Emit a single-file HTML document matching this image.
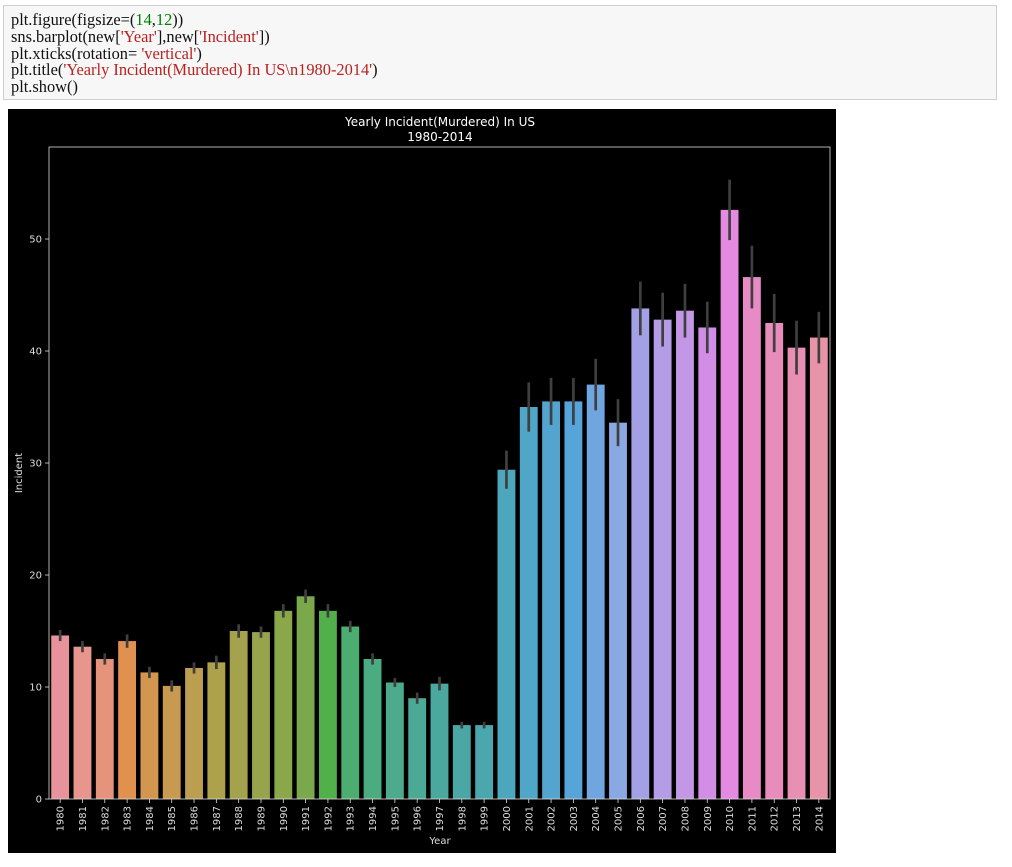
<!DOCTYPE html>
<html><head><meta charset="utf-8"><style>
body{margin:0;background:#fff;width:1012px;height:867px;overflow:hidden;position:relative}
#code{position:absolute;left:3px;top:5px;width:994px;height:95px;background:#f7f7f7;border:1px solid #cfcfcf;font-family:"Liberation Serif",serif;font-size:16.4px;line-height:16.8px;color:#111;padding:6px 0 0 7px;box-sizing:border-box}
.n{color:#008000}.s{color:#ba2121}
svg{position:absolute;left:0;top:0}
</style></head><body>
<div id="code">plt.figure(figsize=(<span class="n">14</span>,<span class="n">12</span>))<br>sns.barplot(new[<span class="s">'Year'</span>],new[<span class="s">'Incident'</span>])<br>plt.xticks(rotation= <span class="s">'vertical'</span>)<br>plt.title(<span class="s">'Yearly Incident(Murdered) In US\n1980-2014'</span>)<br>plt.show()</div>
<svg width="1012" height="867">
<rect x="8" y="109" width="828" height="744" fill="#000"/>
<g id="g" font-family="DejaVu Sans, Liberation Sans, sans-serif"></g>
</svg>
<script>
const years=["1980","1981","1982","1983","1984","1985","1986","1987","1988","1989","1990","1991","1992","1993","1994","1995","1996","1997","1998","1999","2000","2001","2002","2003","2004","2005","2006","2007","2008","2009","2010","2011","2012","2013","2014"];
const values=[14.6,13.6,12.5,14.1,11.3,10.1,11.7,12.2,15.0,14.9,16.8,18.1,16.8,15.4,12.5,10.4,9.0,10.3,6.6,6.6,29.4,35.0,35.5,35.5,37.0,33.6,43.8,42.8,43.6,42.1,52.6,46.6,42.5,40.3,41.2];
const errs=[0.5,0.5,0.5,0.6,0.5,0.5,0.5,0.6,0.6,0.5,0.6,0.6,0.6,0.5,0.5,0.4,0.5,0.6,0.3,0.3,1.7,2.2,2.1,2.1,2.3,2.1,2.4,2.4,2.4,2.3,2.7,2.8,2.6,2.4,2.3];
const yTicks=[0,10,20,30,40,50];
const colors=["#e8939c","#e8968d","#e5937b","#e0904f","#d29650","#c79a50","#bb9e4f","#aea14c","#a5a24d","#98a44c","#8aa84a","#7aa84a","#52b04a","#4cad70","#4bac82","#4bab8c","#4aaa95","#4ba89e","#4aa7a6","#4aa7ae","#4ca7bd","#4fa6c6","#53a5d0","#57a4db","#6fa6e0","#8aa8e2","#a3a0e6","#b59ce6","#c496e6","#d28ee6","#e48ae0","#e88ac6","#e88cbc","#e88fb3","#e894a8"];
const L=49,R=830,T=147,B=799,YMAX=(B-T)/11.2;
const y=v=>B-v/YMAX*(B-T);
const step=(R-L)/years.length;
const x=i=>L+step*(i+0.5);
const g=document.getElementById('g');
const NS="http://www.w3.org/2000/svg";
function mk(t,a){const e=document.createElementNS(NS,t);for(const k in a)e.setAttribute(k,a[k]);g.appendChild(e);return e;}
values.forEach((v,i)=>{
 const r=mk('rect',{x:x(i)-step*0.4,y:y(v),width:step*0.8,height:B-y(v),fill:colors[i]});
 
 
 const e=mk('line',{x1:x(i),x2:x(i),y1:y(v-errs[i]),y2:y(v+errs[i]),stroke:'#3f3f3f','stroke-width':2.7});
 
 
 mk('line',{x1:x(i),x2:x(i),y1:B,y2:B+4,stroke:'#ddd','stroke-width':0.8});
 const t=mk('text',{x:0,y:0,fill:'#ddd','font-size':10,'text-anchor':'end',transform:`translate(${x(i)+3.5},${B+7}) rotate(-90)`});
 t.textContent=years[i];
 
 
});
yTicks.forEach(v=>{
 mk('line',{x1:L-4,x2:L,y1:y(v),y2:y(v),stroke:'#ddd','stroke-width':0.8});
 const t=mk('text',{x:L-7,y:y(v)+3.5,fill:'#ddd','font-size':10,'text-anchor':'end'});
 t.textContent=v;
 
 
});
const fr=mk('rect',{x:L,y:T,width:R-L,height:B-T,fill:'none',stroke:'#ddd','stroke-width':0.8});


const t1=mk('text',{x:440,y:126,fill:'#fff','font-size':12,'text-anchor':'middle'});t1.textContent='Yearly Incident(Murdered) In US';


const t2=mk('text',{x:440,y:141,fill:'#fff','font-size':12,'text-anchor':'middle'});t2.textContent='1980-2014';


const xl=mk('text',{x:440,y:844,fill:'#ddd','font-size':10,'text-anchor':'middle'});xl.textContent='Year';


const yl=mk('text',{x:0,y:0,fill:'#ddd','font-size':10,'text-anchor':'middle',transform:'translate(22,473) rotate(-90)'});yl.textContent='Incident';


</script>
</body></html>
